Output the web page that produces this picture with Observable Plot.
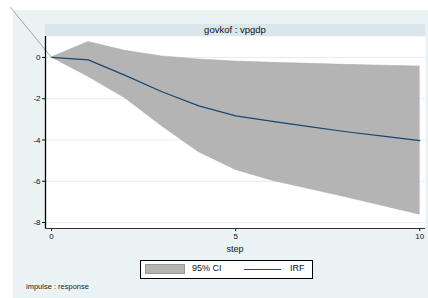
<!DOCTYPE html>
<html>
<head>
<meta charset="utf-8">
<script src="https://cdn.jsdelivr.net/npm/d3@7"></script>
<script src="https://cdn.jsdelivr.net/npm/@observablehq/plot@0.6"></script>
<style>
  html, body { margin: 0; padding: 0; background: #ffffff; }
  #wrap { position: relative; width: 428px; height: 298px; overflow: hidden; font-family: "Liberation Sans", Arial, sans-serif; color: #111; }
  .abs { position: absolute; }
  #region { left: 13px; top: 10px; width: 415px; height: 288px; background: #eaf2f3; }
  #strip { left: 45px; top: 24px; width: 380px; height: 12px; background: #d9e6eb; font-size: 9.5px; line-height: 12px; text-align: center; color: #111; }
  #chart { left: 0; top: 0; }
  #xlabel { left: 185px; width: 100px; top: 244px; text-align: center; font-size: 9px; color: #111; }
  #legend { left: 140px; top: 260px; width: 171px; height: 17px; background: #fff; border: 1px solid #000; font-size: 9px; color: #111; }
  #swatch { left: 4px; top: 3px; width: 40px; height: 10px; background: #b4b4b4; border: 0.5px solid #999; box-sizing: border-box; }
  #lab1 { left: 51px; top: 2px; }
  #legline { left: 103px; top: 8px; width: 37px; height: 0; border-top: 1.2px solid #1a476f; }
  #lab2 { left: 149px; top: 2px; }
  #note { left: 26px; top: 282px; font-size: 7.5px; color: #222222; }
</style>
</head>
<body>
<div id="wrap">
  <div id="region" class="abs"></div>
  <div id="strip" class="abs"></div>
  <div id="chart" class="abs"></div>
  <div id="xlabel" class="abs"></div>
  <div id="legend" class="abs">
    <div id="swatch" class="abs"></div>
    <div id="lab1" class="abs"></div>
    <div id="legline" class="abs"></div>
    <div id="lab2" class="abs"></div>
  </div>
  <div id="note" class="abs"></div>
</div>
<script>
// ---- data ----
const steps = [0, 1, 2, 3, 4, 5, 6, 7, 8, 9, 10];
const irf   = [0, -0.12, -0.87, -1.66, -2.35, -2.83, -3.1, -3.35, -3.6, -3.81, -4.03];
const upper = [0, 0.75, 0.32, 0.05, -0.1, -0.2, -0.26, -0.31, -0.36, -0.40, -0.44];
const lower = [0, -0.94, -1.98, -3.34, -4.59, -5.45, -5.98, -6.38, -6.78, -7.2, -7.62];
// stray connector line seen at top-left of the reference
const leadSteps  = [-1.11, 0];
const leadValues = [2.42, 0];
const xTicks = [0, 5, 10];
const yTicks = [0, -2, -4, -6, -8];
const xDomain = [-0.163, 10.155];
const yDomain = [-8.29, 1.015];
const panelTitle = "govkof : vpgdp";
const xTitle = "step";
const legendLabels = ["95% CI", "IRF"];
const note = "impulse : response";

const data = steps.map((s, i) => ({step: s, irf: irf[i], upper: upper[i], lower: lower[i]}));
const lead = leadSteps.map((s, i) => ({step: s, value: leadValues[i]}));

const chart = Plot.plot({
  width: 428,
  height: 298,
  marginLeft: 45,
  marginRight: 3,
  marginTop: 36,
  marginBottom: 70,
  style: { background: "transparent", fontFamily: "Liberation Sans, Arial, sans-serif", fontSize: "8px", color: "#111" },
  x: { domain: xDomain, ticks: xTicks, tickSize: 3, tickPadding: 2, tickFormat: d => String(d), label: null },
  y: { domain: yDomain, ticks: yTicks, tickSize: 3, tickPadding: 2, tickFormat: d => String(d), label: null },
  marks: [
    Plot.frame({ fill: "#ffffff", stroke: "none" }),
    Plot.ruleY(yTicks, { stroke: "#e4eef1", strokeWidth: 1 }),
    Plot.areaY(data, { x: "step", y1: "lower", y2: "upper", fill: "#b4b4b4", stroke: "#a9a9a9", strokeWidth: 0.5 }),
    Plot.line(data, { x: "step", y: "irf", stroke: "#1a476f", strokeWidth: 1.2 }),
    Plot.line(lead, { x: "step", y: "value", stroke: "#a6a6a6", strokeWidth: 1 }),
    Plot.ruleX([xDomain[0]], { stroke: "#000", strokeWidth: 1.3 }),
    Plot.ruleY([yDomain[0]], { stroke: "#333", strokeWidth: 1 })
  ]
});
document.getElementById("chart").appendChild(chart);
document.getElementById("strip").textContent = panelTitle;
document.getElementById("xlabel").textContent = xTitle;
document.getElementById("lab1").textContent = legendLabels[0];
document.getElementById("lab2").textContent = legendLabels[1];
document.getElementById("note").textContent = note;
</script>
</body>
</html>
